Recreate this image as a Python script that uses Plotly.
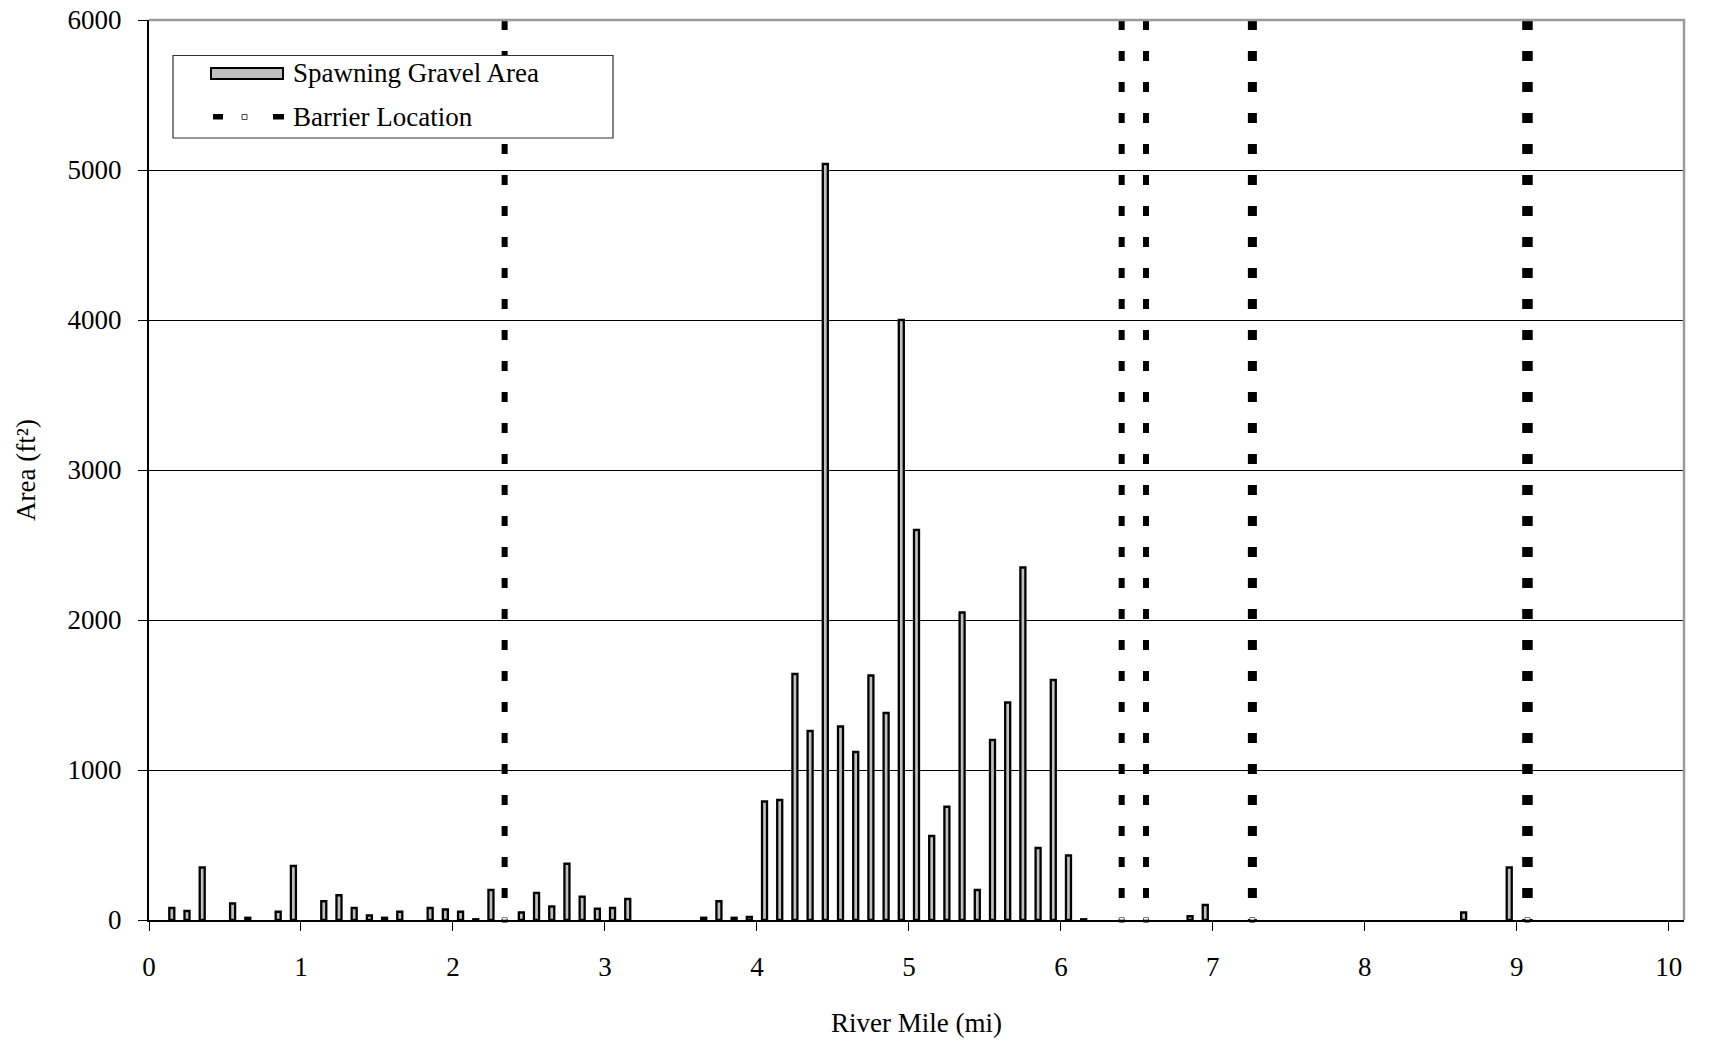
import plotly.graph_objects as go

# Spawning gravel area per 0.1-mile reach (reach start mile -> area in ft²)
reach_start_mile = [
    0.1, 0.2, 0.3, 0.5, 0.6, 0.8, 0.9,
    1.1, 1.2, 1.3, 1.4, 1.5, 1.6, 1.8, 1.9,
    2.0, 2.1, 2.2, 2.4, 2.5, 2.6, 2.7, 2.8, 2.9,
    3.0, 3.1, 3.6, 3.7, 3.8, 3.9,
    4.0, 4.1, 4.2, 4.3, 4.4, 4.5, 4.6, 4.7, 4.8, 4.9,
    5.0, 5.1, 5.2, 5.3, 5.4, 5.5, 5.6, 5.7, 5.8, 5.9,
    6.0, 6.1, 6.8, 6.9, 8.6, 8.9,
]
gravel_area = [
    80, 60, 350, 110, 15, 55, 360,
    125, 165, 80, 30, 15, 55, 80, 70,
    55, 5, 200, 50, 180, 90, 375, 155, 75,
    80, 140, 15, 125, 15, 20,
    790, 800, 1640, 1260, 5040, 1290, 1120, 1630, 1380, 4000,
    2600, 560, 755, 2050, 200, 1200, 1450, 2350, 480, 1600,
    430, 5, 25, 100, 50, 350,
]

# Fish passage barriers (river mile)
barrier_mile = [2.34, 6.40, 6.56, 7.26, 9.07]
barrier_line_px = [6, 6, 6, 9, 10.5]

# Axis tick values
x_ticks = list(range(0, 11))
y_ticks = [0, 1000, 2000, 3000, 4000, 5000, 6000]

REACH = 0.1
BAR_W = 0.033
X_MAX = 10.1
Y_MAX = 6000

FONT = "Liberation Serif, Times New Roman, serif"
FS = 27

# plot-area geometry in pixels, used for the hand-drawn legend box
W, H = 1709, 1043
ML, MR, MT, MB = 149, 25, 20, 123
PW, PH = W - ML - MR, H - MT - MB


def fx(p):
    return (p - ML) / PW


def fy(p):
    return (H - MB - p) / PH


fig = go.Figure()

fig.add_trace(go.Bar(
    x=reach_start_mile,
    y=gravel_area,
    width=BAR_W,
    offset=(REACH - BAR_W) / 2,
    marker=dict(color="#c0c0c0", line=dict(color="black", width=2.3)),
    name="Spawning Gravel Area",
    showlegend=False,
))

for mile, lw in zip(barrier_mile, barrier_line_px):
    fig.add_trace(go.Scatter(
        x=[mile, mile],
        y=[Y_MAX, 0],
        mode="lines+markers",
        line=dict(color="black", width=lw, dash="10px,21px"),
        marker=dict(symbol="square", size=[0, 5], color="white",
                    line=dict(color="#444444", width=[0, 1])),
        cliponaxis=False,
        name="Barrier Location",
        showlegend=False,
    ))

txt = dict(family=FONT, size=FS, color="black")

shapes = [
    # grey frame on the top and right of the plot area
    dict(type="path", xref="x domain", yref="y domain",
         path="M 0 1 L 1 1 L 1 0", line=dict(color="#9a9a9a", width=2.5),
         layer="above"),
    # legend box
    dict(type="rect", xref="paper", yref="paper",
         x0=fx(173), x1=fx(613), y0=fy(138), y1=fy(55.5),
         fillcolor="white", line=dict(color="#333333", width=1.2),
         layer="above"),
    # legend swatch: gravel bar
    dict(type="rect", xref="paper", yref="paper",
         x0=fx(211), x1=fx(283), y0=fy(79), y1=fy(68),
         fillcolor="#c0c0c0", line=dict(color="black", width=2),
         layer="above"),
    # legend swatch: barrier dashes and marker
    dict(type="rect", xref="paper", yref="paper",
         x0=fx(213), x1=fx(223), y0=fy(119.5), y1=fy(114),
         fillcolor="black", line=dict(width=0), layer="above"),
    dict(type="rect", xref="paper", yref="paper",
         x0=fx(242), x1=fx(247), y0=fy(119.5), y1=fy(114.5),
         fillcolor="white", line=dict(color="#444444", width=1),
         layer="above"),
    dict(type="rect", xref="paper", yref="paper",
         x0=fx(273), x1=fx(284), y0=fy(119.5), y1=fy(114),
         fillcolor="black", line=dict(width=0), layer="above"),
]

annotations = [
    dict(text="Spawning Gravel Area", xref="paper", yref="paper",
         x=fx(291), y=fy(73.5), xanchor="left", yanchor="middle",
         showarrow=False, font=txt),
    dict(text="Barrier Location", xref="paper", yref="paper",
         x=fx(291), y=fy(117), xanchor="left", yanchor="middle",
         showarrow=False, font=txt),
]

fig.update_layout(
    width=W, height=H,
    margin=dict(l=ML, r=MR, t=MT, b=MB, pad=0),
    paper_bgcolor="white",
    plot_bgcolor="white",
    font=txt,
    showlegend=False,
    shapes=shapes,
    annotations=annotations,
    xaxis=dict(
        range=[0, X_MAX], automargin=False,
        tickmode="array", tickvals=x_ticks, ticktext=[str(t) for t in x_ticks],
        ticks="outside", ticklen=9, tickwidth=1.2, tickcolor="black",
        ticklabelstandoff=13,
        showline=True, linecolor="black", linewidth=1.5,
        showgrid=False, zeroline=False,
        tickfont=txt,
        title=dict(text="River Mile (mi)", standoff=32, font=txt),
    ),
    yaxis=dict(
        range=[0, Y_MAX], automargin=False,
        tickmode="array", tickvals=y_ticks, ticktext=[str(t) for t in y_ticks],
        ticks="outside", ticklen=9, tickwidth=1.2, tickcolor="black",
        ticklabelstandoff=11,
        showline=True, linecolor="black", linewidth=2,
        showgrid=True, gridcolor="black", gridwidth=1,
        zeroline=False,
        tickfont=txt,
        title=dict(text="Area (ft²)", standoff=24, font=txt),
    ),
)

fig.write_html("out.html")
